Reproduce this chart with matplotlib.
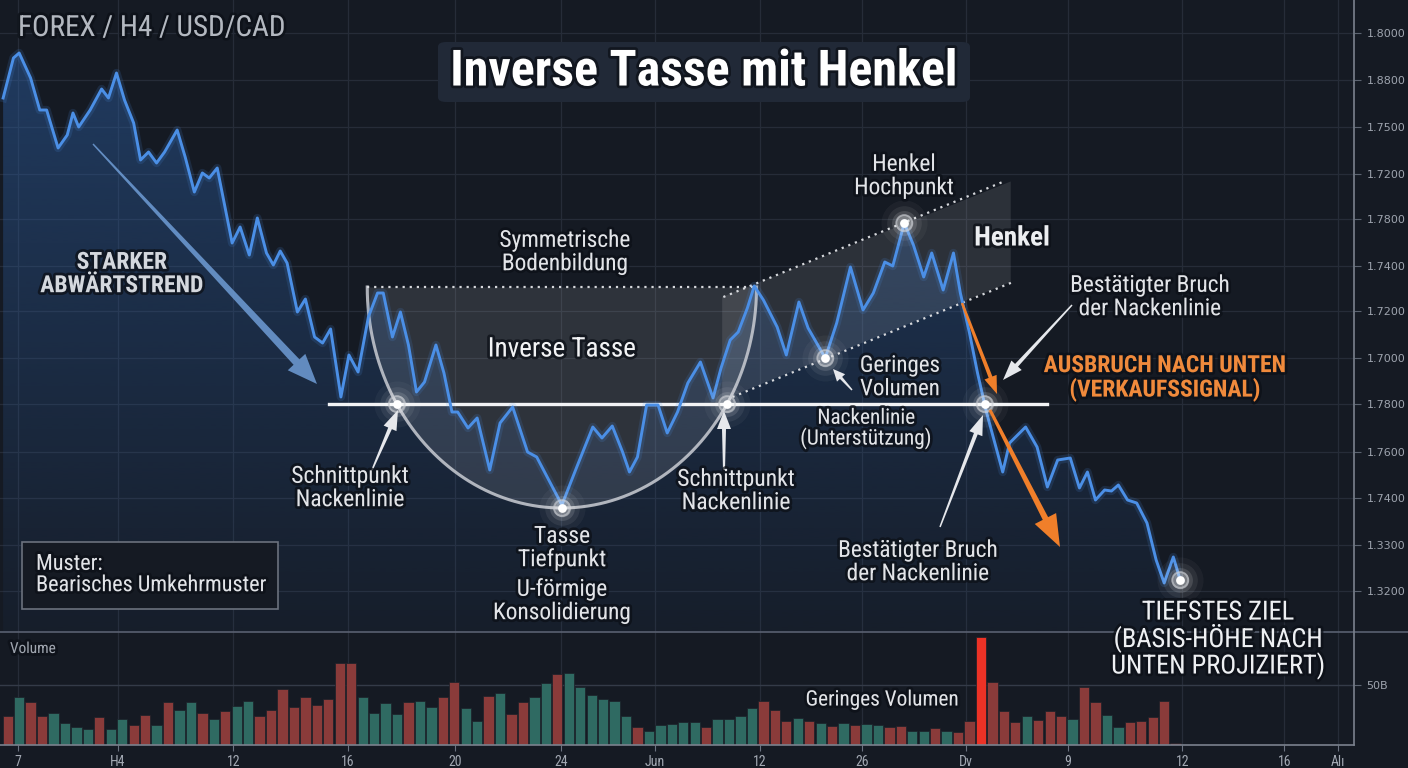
import numpy as np
import matplotlib
matplotlib.use("Agg")
import matplotlib.pyplot as plt
import matplotlib.patheffects as pe
from matplotlib import font_manager as fm
from matplotlib.colors import to_rgb
from matplotlib.patches import Polygon, Rectangle, FancyBboxPatch

W, H = 1408, 768
BG = "#151a23"
GRID = "#262c38"
TXT = "#e2e4e8"

# --- price trace (time in bar units, price in chart points) ---
price_t = [-0.4, 0.5, 1.0, 2.0, 2.8, 3.4, 4.4, 5.2, 5.7, 6.2,
           7.2, 8.2, 8.8, 9.5, 10.2, 11.0, 11.6, 12.3, 13.0, 13.7,
           14.8, 15.5, 16.3, 17.0, 17.6, 18.3, 19.6, 20.3, 21.1, 21.8,
           22.6, 23.2, 23.8, 24.4, 25.3, 26.0, 26.8, 27.5, 28.2, 29.1,
           29.8, 30.6, 31.5, 32.3, 32.8, 33.6, 34.3, 35.0, 35.7, 36.4,
           37.4, 38.1, 38.8, 39.3, 40.2, 41.0, 42.1, 43.0, 44.1, 45.4,
           46.2, 48.4, 49.7, 51.1, 51.9, 52.8, 53.7, 54.3, 55.0, 55.8,
           56.8, 57.6, 58.5, 59.4, 60.5, 61.6, 62.3, 63.1, 63.8, 64.6,
           65.2, 66.0, 67.2, 68.0, 69.1, 69.9, 71.4, 72.4, 73.6, 74.7,
           75.6, 76.6, 77.3, 78.3, 79.1, 80.0, 80.7, 81.7, 82.6, 83.2,
           84.0, 84.7, 85.5, 86.9, 87.5, 88.2, 88.9, 89.9, 90.8, 91.7,
           92.8, 93.6, 94.3, 95.0, 95.8, 96.4, 97.0, 97.8, 98.6, 99.5,
           100.3, 101.0, 101.8, 102.4]
price_v = [534, 574, 579, 554, 522, 522, 484, 497, 519, 505,
           522, 543, 534, 559, 532, 509, 472, 480, 469, 480,
           502, 475, 440, 459, 454, 464, 389, 405, 377, 414,
           379, 367, 381, 369, 320, 333, 295, 289, 303, 235,
           277, 260, 315, 339, 339, 295, 320, 287, 240, 250,
           287, 259, 220, 220, 204, 214, 162, 209, 225, 180,
           175, 127, 165, 205, 194, 206, 180, 160, 175, 227,
           227, 199, 220, 249, 270, 234, 264, 292, 300, 324,
           346, 332, 305, 277, 330, 304, 274, 309, 365, 322,
           339, 370, 366, 409, 387, 355, 379, 342, 379, 339,
           299, 259, 219, 160, 189, 197, 205, 185, 145, 172,
           174, 144, 160, 132, 142, 141, 147, 132, 129, 109,
           72, 49, 75, 52]

# --- volume bars (one per bar index), r = down, g = up, R = breakout spike ---
volume = [29, 48, 43, 29, 32, 22, 18, 16, 28, 16,
          26, 20, 30, 20, 43, 35, 43, 32, 26, 34,
          39, 44, 29, 35, 56, 38, 48, 40, 46, 82,
          82, 48, 32, 42, 31, 43, 44, 38, 48, 63,
          37, 24, 49, 52, 31, 43, 48, 62, 71, 72,
          58, 50, 46, 44, 29, 18, 14, 20, 21, 23,
          23, 18, 26, 26, 29, 37, 44, 35, 24, 27,
          24, 22, 19, 22, 20, 21, 20, 18, 19, 14,
          14, 17, 14, 13, 24, 108, 63, 34, 23, 29,
          25, 34, 29, 26, 58, 43, 30, 18, 23, 24,
          28, 44, 2]
vol_side = ("rgrrggggrg" "grrgrggrgr" "ggrrrrrrrr" "rggggrggrr" "ggrgrrggrg"
            "gggggrgggg" "gr" "ggggrrrgrg" "rgrggrrggr" "grrRrrrgrr" "rgrrggrrrr" "r")

xtick_pos = [0.9, 9.6, 19.7, 29.7, 39.1, 48.3, 56.5, 65.7, 74.6, 83.7, 92.6, 102.6, 111.5, 116.2]
xtick_labels = ["7", "H4", "12", "16", "20", "24", "Jun", "12", "26", "Dv", "9", "12", "16", "Alı"]
ytick_pos = [599, 552, 505, 458, 413, 366, 321, 274, 228, 180, 134, 87, 41]
ytick_labels = ["1.8000", "1.8800", "1.7500", "1.7200", "1.7800", "1.7400", "1.7200",
                "1.7000", "1.7800", "1.7600", "1.7400", "1.3300", "1.3200"]
vol_tick_pos = [60]
vol_tick_labels = ["50B"]

neckline = 228
cup_top = 345
cup_halfwidth = 17.0
handle_upper = [(62.5, 335), (87.1, 451)]
handle_lower = [(63.3, 235), (87.8, 350)]


def pick_font(names):
    for n in names:
        try:
            fm.findfont(fm.FontProperties(family=n), fallback_to_default=False)
            return n
        except ValueError:
            continue
    return "DejaVu Sans"


FONT = pick_font(["Roboto Condensed", "Liberation Sans Narrow", "Open Sans Condensed", "Roboto"])
shadow = [pe.withStroke(linewidth=4, foreground="#0c1017", alpha=0.75)]

t = np.array(price_t)
v = np.array(price_v, dtype=float)
XMIN, XMAX = -0.673, 117.58

fig = plt.figure(figsize=(W / 100, H / 100), dpi=100, facecolor=BG)
ax = fig.add_axes([0, 136 / H, 1354 / W, 632 / H], facecolor=BG)
axv = fig.add_axes([0, 23 / H, 1354 / W, 113 / H], facecolor=BG)

for a in (ax, axv):
    a.set_xlim(XMIN, XMAX)
    for s in a.spines.values():
        s.set_visible(False)
    for xp in xtick_pos:
        a.axvline(xp, color=GRID, lw=0.9, zorder=0)

# price panel
ax.set_ylim(0, 632)
ax.yaxis.tick_right()
ax.set_yticks(ytick_pos)
ax.set_yticklabels(ytick_labels, family="DejaVu Sans", fontsize=8, color="#9ea4ae")
ax.tick_params(axis="y", length=5, color="#5c6370", pad=4)
ax.set_xticks([])
for yp in ytick_pos:
    ax.axhline(yp, color=GRID, lw=0.9, zorder=0)

# gradient area under price
rgba = np.zeros((256, 1, 4))
rgba[..., :3] = to_rgb("#2d5fa3")
rgba[..., 3] = (0.06 + 0.45 * np.linspace(0, 1, 256))[:, None]
im = ax.imshow(rgba, extent=[XMIN, XMAX, 0, 632], origin="lower", aspect="auto",
               zorder=1, interpolation="bilinear")
area = Polygon(np.column_stack([np.r_[t[0], t, t[-1]], np.r_[0, v, 0]]),
               transform=ax.transData, fc="none", ec="none")
ax.add_patch(area)
im.set_clip_path(area)

# cup geometry derived from price minimum
win = (t > 40) & (t < 56)
i_bot = np.argmin(np.where(win, v, np.inf))
cup_c = t[i_bot]
cup_bottom = v[i_bot] - 3
ang = np.linspace(np.pi, 2 * np.pi, 200)
arc_x = cup_c + cup_halfwidth * np.cos(ang)
arc_y = cup_top + (cup_top - cup_bottom) * np.sin(ang)
ax.fill_between(arc_x, arc_y, cup_top, color="white", alpha=0.11, lw=0, zorder=2)
ax.plot(arc_x, arc_y, color="#c9ccd3", lw=2.2, alpha=0.85, zorder=4)
ax.plot([arc_x[0], arc_x[-1]], [cup_top, cup_top], color="#d6d8dc", lw=1.6,
        ls=(0, (1, 2.2)), zorder=4)

# handle channel
(ux0, uy0), (ux1, uy1) = handle_upper
(lx0, ly0), (lx1, ly1) = handle_lower
ax.add_patch(Polygon([(ux0 - 0.1, uy0), (ux1 + 0.5, uy1 - 0.5), (lx1 - 0.2, ly1), (ux0 - 0.1, ly0 - 3)],
                     closed=True, fc="white", alpha=0.1, lw=0, zorder=2))
ax.plot([ux0, ux1], [uy0, uy1], color="#d6d8dc", lw=1.6, ls=(0, (1, 2.2)), zorder=4)
ax.plot([lx0, lx1], [ly0, ly1], color="#d6d8dc", lw=1.6, ls=(0, (1, 2.2)), zorder=4)

# neckline
ax.plot([28.1, 90.8], [neckline, neckline], color="#f2f3f5", lw=2.4, zorder=5)

# price line with glow
ax.plot(t, v, color="#4b8fe6", lw=6, alpha=0.15, zorder=5, solid_joinstyle="round")
ax.plot(t, v, color="#4b8fe6", lw=2.1, zorder=6, solid_joinstyle="round")


def glow(x, y):
    for s, a in [(1100, 0.04), (620, 0.07), (320, 0.13), (160, 0.28)]:
        ax.scatter([x], [y], s=s, color="white", alpha=a, lw=0, zorder=8)
    ax.scatter([x], [y], s=130, facecolor="none", edgecolor="#c9ccd2", lw=1.4, alpha=0.6, zorder=9)
    ax.scatter([x], [y], s=40, color="white", lw=0, zorder=10)


dx = cup_halfwidth * np.sqrt(1 - ((cup_top - neckline) / (cup_top - cup_bottom)) ** 2)
glow(cup_c - dx, neckline)
glow(cup_c + dx, neckline)
glow(cup_c, cup_bottom)
hw = (t > 70) & (t < 86)
i_hi = np.argmax(np.where(hw, v, -np.inf))
glow(t[i_hi], v[i_hi])
lw_ = (t > 70) & (t < 73)
i_lo = np.argmin(np.where(lw_, v, np.inf))
glow(t[i_lo], v[i_lo])
k = np.where((t > 84) & (v < neckline))[0][0]
tb = t[k - 1] + (v[k - 1] - neckline) / (v[k - 1] - v[k]) * (t[k] - t[k - 1])
glow(tb, neckline)
glow(t[-1], v[-1])

# volume panel
axv.set_ylim(0, 113)
pal = {"r": "#8a3b3a", "g": "#2f6a62", "R": "#ec3226"}
xb = np.arange(len(volume))
axv.bar(xb, volume, width=0.9, color=[pal[c] for c in vol_side],
        edgecolor="#1b2029", lw=0.5, zorder=3)
axv.axhline(vol_tick_pos[0], color="#343b48", lw=1, zorder=1)
axv.yaxis.tick_right()
axv.set_yticks(vol_tick_pos)
axv.set_yticklabels(vol_tick_labels, family="DejaVu Sans", fontsize=8, color="#9ea4ae")
axv.tick_params(axis="y", length=5, color="#5c6370", pad=4)
axv.set_xticks(xtick_pos)
axv.set_xticklabels(xtick_labels, family=FONT, fontsize=10, color="#a2a8b2")
axv.tick_params(axis="x", length=4, color="#6b7280", pad=3)

# frame lines
fig.add_artist(plt.Line2D([0, 1], [1 - 632 / H] * 2, transform=fig.transFigure, color="#596070", lw=1.2))
fig.add_artist(plt.Line2D([0, 1354 / W], [1 - 745 / H] * 2, transform=fig.transFigure, color="#7a818d", lw=1.2))
fig.add_artist(plt.Line2D([1354 / W] * 2, [1 - 745 / H, 1], transform=fig.transFigure, color="#7a818d", lw=1.2))


def P(x, y):
    return x / W, 1 - y / H


def arrow_px(x0, y0, x1, y1, w0, w1, hwid, hlen, color, alpha=1.0):
    d = np.array([x1 - x0, y1 - y0], float)
    u = d / np.hypot(*d)
    n = np.array([-u[1], u[0]])
    p0 = np.array([x0, y0], float)
    tip = np.array([x1, y1], float)
    pb = tip - u * hlen
    pts = [p0 + n * w0 / 2, pb + n * w1 / 2, pb + n * hwid / 2, tip,
           pb - n * hwid / 2, pb - n * w1 / 2, p0 - n * w0 / 2]
    fig.add_artist(Polygon([P(*p) for p in pts], closed=True, transform=fig.transFigure,
                           fc=color, ec="none", alpha=alpha, zorder=2))


arrow_px(93, 144, 317, 384, 1.5, 8, 24, 30, "#6f9dd6", 0.85)
arrow_px(962, 303, 997, 394, 2.5, 4, 13, 18, "#f07f2a")
arrow_px(990, 410, 1060, 547, 3, 6, 24, 32, "#f07f2a")
W_ARR = "#e6e8ec"
arrow_px(372, 470, 398, 410, 1.5, 4, 14, 20, W_ARR)
arrow_px(724, 470, 724, 411, 2, 4, 14, 18, W_ARR)
arrow_px(852, 390, 833, 369, 1.5, 3, 11, 12, W_ARR)
arrow_px(1072, 305, 1003, 380, 1.5, 4, 14, 20, W_ARR)
arrow_px(940, 527, 983, 415, 1.5, 4, 14, 20, W_ARR)


def label(x, y, s, size=17, color=TXT, weight="normal", ha="center", ls=1.02):
    fig.text(x / W, 1 - y / H, s, ha=ha, va="center", fontsize=size, color=color,
             weight=weight, family=FONT, linespacing=ls, path_effects=shadow, zorder=5)


# title
fig.add_artist(FancyBboxPatch(P(438, 102), 532 / W, 60 / H, boxstyle="round,pad=0,rounding_size=0.006",
                              transform=fig.transFigure, fc="#212937", ec="none", zorder=3))
label(704, 72, "Inverse Tasse mit Henkel", size=36, color="white", weight="bold")
label(18, 28, "FOREX / H4 / USD/CAD", size=21, color="#b3b8c0", ha="left")

label(122, 274, "STARKER\nABWÄRTSTREND", size=17, color="#d4d8de", weight="bold")
label(565, 252, "Symmetrische\nBodenbildung", size=16.8)
label(562, 349, "Inverse Tasse", size=19.5, color="#f2f3f5")
label(904, 176, "Henkel\nHochpunkt", size=16.8)
label(1012, 238, "Henkel", size=19.5, color="#eceef1", weight="bold")
label(1150, 297, "Bestätigter Bruch\nder Nackenlinie", size=16.8)
label(1165, 378, "AUSBRUCH NACH UNTEN\n(VERKAUFSSIGNAL)", size=17, color="#f08a3c", weight="bold")
label(900, 377, "Geringes\nVolumen", size=16.5)
label(866, 429, "Nackenlinie\n(Unterstützung)", size=15.3)
label(350, 488, "Schnittpunkt\nNackenlinie", size=17)
label(736, 491, "Schnittpunkt\nNackenlinie", size=17)
label(562, 548, "Tasse\nTiefpunkt", size=17)
label(562, 601, "U-förmige\nKonsolidierung", size=16.8)
label(918, 562, "Bestätigter Bruch\nder Nackenlinie", size=16.8)
label(1218, 640, "TIEFSTES ZIEL\n(BASIS-HÖHE NACH\nUNTEN PROJIZIERT)", size=19, color="#eef0f3", ls=0.98)

fig.add_artist(Rectangle(P(22, 609), 256 / W, 67 / H, transform=fig.transFigure,
                         fc=BG, ec="#6b717d", lw=1.2, zorder=3))
label(36, 575, "Muster:\nBearisches Umkehrmuster", size=16, ha="left")
label(10, 649, "Volume", size=11, color="#9ea4ae", ha="left")
label(882, 700, "Geringes Volumen", size=15.3)

fig.savefig("out.png", dpi=100, facecolor=BG)
